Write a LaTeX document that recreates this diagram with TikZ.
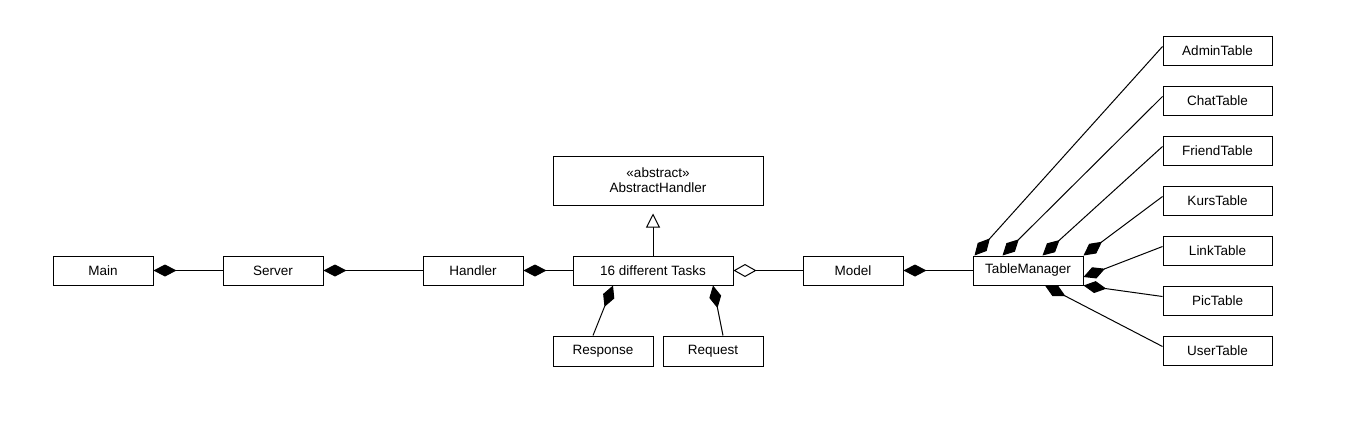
\documentclass[tikz,border=0pt]{standalone}
\usepackage{fontspec}
\setmainfont{Liberation Sans}
\usetikzlibrary{arrows.meta}
\begin{document}
\begin{tikzpicture}[x=1pt,y=-1pt,
  cls/.style={draw,line width=1pt,minimum height=29pt,inner sep=0pt,align=center,
    font=\fontsize{13.5}{15}\selectfont},
  comp/.style={{Diamond[length=23pt,width=12pt,fill=black]}-, line width=1pt},
  aggr/.style={{Diamond[length=23pt,width=13pt,open,fill=white]}-, line width=1pt},
  gen/.style={-{Triangle[open,length=14pt,width=14pt,fill=white]}, line width=1pt}
]
\fill[white] (0,0) rectangle (1352,432);
\useasboundingbox (0,0) rectangle (1352,432);

\node[cls,minimum width=100pt] (main) at (103,270.5) {Main};
\node[cls,minimum width=100pt] (server) at (273,270.5) {Server};
\node[cls,minimum width=100pt] (handler) at (473,270.5) {Handler};
\node[cls,minimum width=160pt] (tasks) at (653,270.5) {16 different Tasks};
\node[cls,minimum width=100pt] (model) at (853,270.5) {Model};
\node[cls,minimum width=110pt] (tm) at (1028,270.5) {TableManager};
\node[cls,minimum width=210pt,minimum height=49pt] (ah) at (658,180.5) {«abstract»\\AbstractHandler};
\node[cls,minimum width=100pt,minimum height=30pt] (resp) at (603,351) {Response};
\node[cls,minimum width=100pt,minimum height=30pt] (req) at (713,351) {Request};

\node[cls,minimum width=109pt] (admin) at (1217.5,50.5) {AdminTable};
\node[cls,minimum width=109pt] (chat) at (1217.5,100.5) {ChatTable};
\node[cls,minimum width=109pt] (friend) at (1217.5,150.5) {FriendTable};
\node[cls,minimum width=109pt] (kurs) at (1217.5,200.5) {KursTable};
\node[cls,minimum width=109pt] (link) at (1217.5,250.5) {LinkTable};
\node[cls,minimum width=109pt] (pic) at (1217.5,300.5) {PicTable};
\node[cls,minimum width=109pt] (user) at (1217.5,350.5) {UserTable};

\draw[comp] (main.east) -- (server.west);
\draw[comp] (server.east) -- (handler.west);
\draw[comp] (handler.east) -- (tasks.west);
\draw[aggr] (tasks.east) -- (model.west);
\draw[comp] (model.east) -- (tm.west);
\draw[gen,shorten >=8pt] (tasks.north) -- (tasks.north |- ah.south);
\draw[comp] ([xshift=-40pt]tasks.south) -- ([xshift=-10pt]resp.north);
\draw[comp] ([xshift=60pt]tasks.south) -- ([xshift=10pt]req.north);

\draw[comp] ([xshift=2pt]tm.north west) -- ([yshift=4pt]admin.west);
\draw[comp] ([xshift=30pt]tm.north west) -- ([yshift=4pt]chat.west);
\draw[comp] ([xshift=70pt]tm.north west) -- ([yshift=4pt]friend.west);
\draw[comp] (tm.north east) -- ([yshift=4pt]kurs.west);
\draw[comp] ([yshift=-6.5pt]tm.east) -- ([yshift=4pt]link.west);
\draw[comp] (tm.south east) -- ([yshift=4pt]pic.west);
\draw[comp] ([xshift=17pt]tm.south) -- ([yshift=4pt]user.west);
\end{tikzpicture}
\end{document}
